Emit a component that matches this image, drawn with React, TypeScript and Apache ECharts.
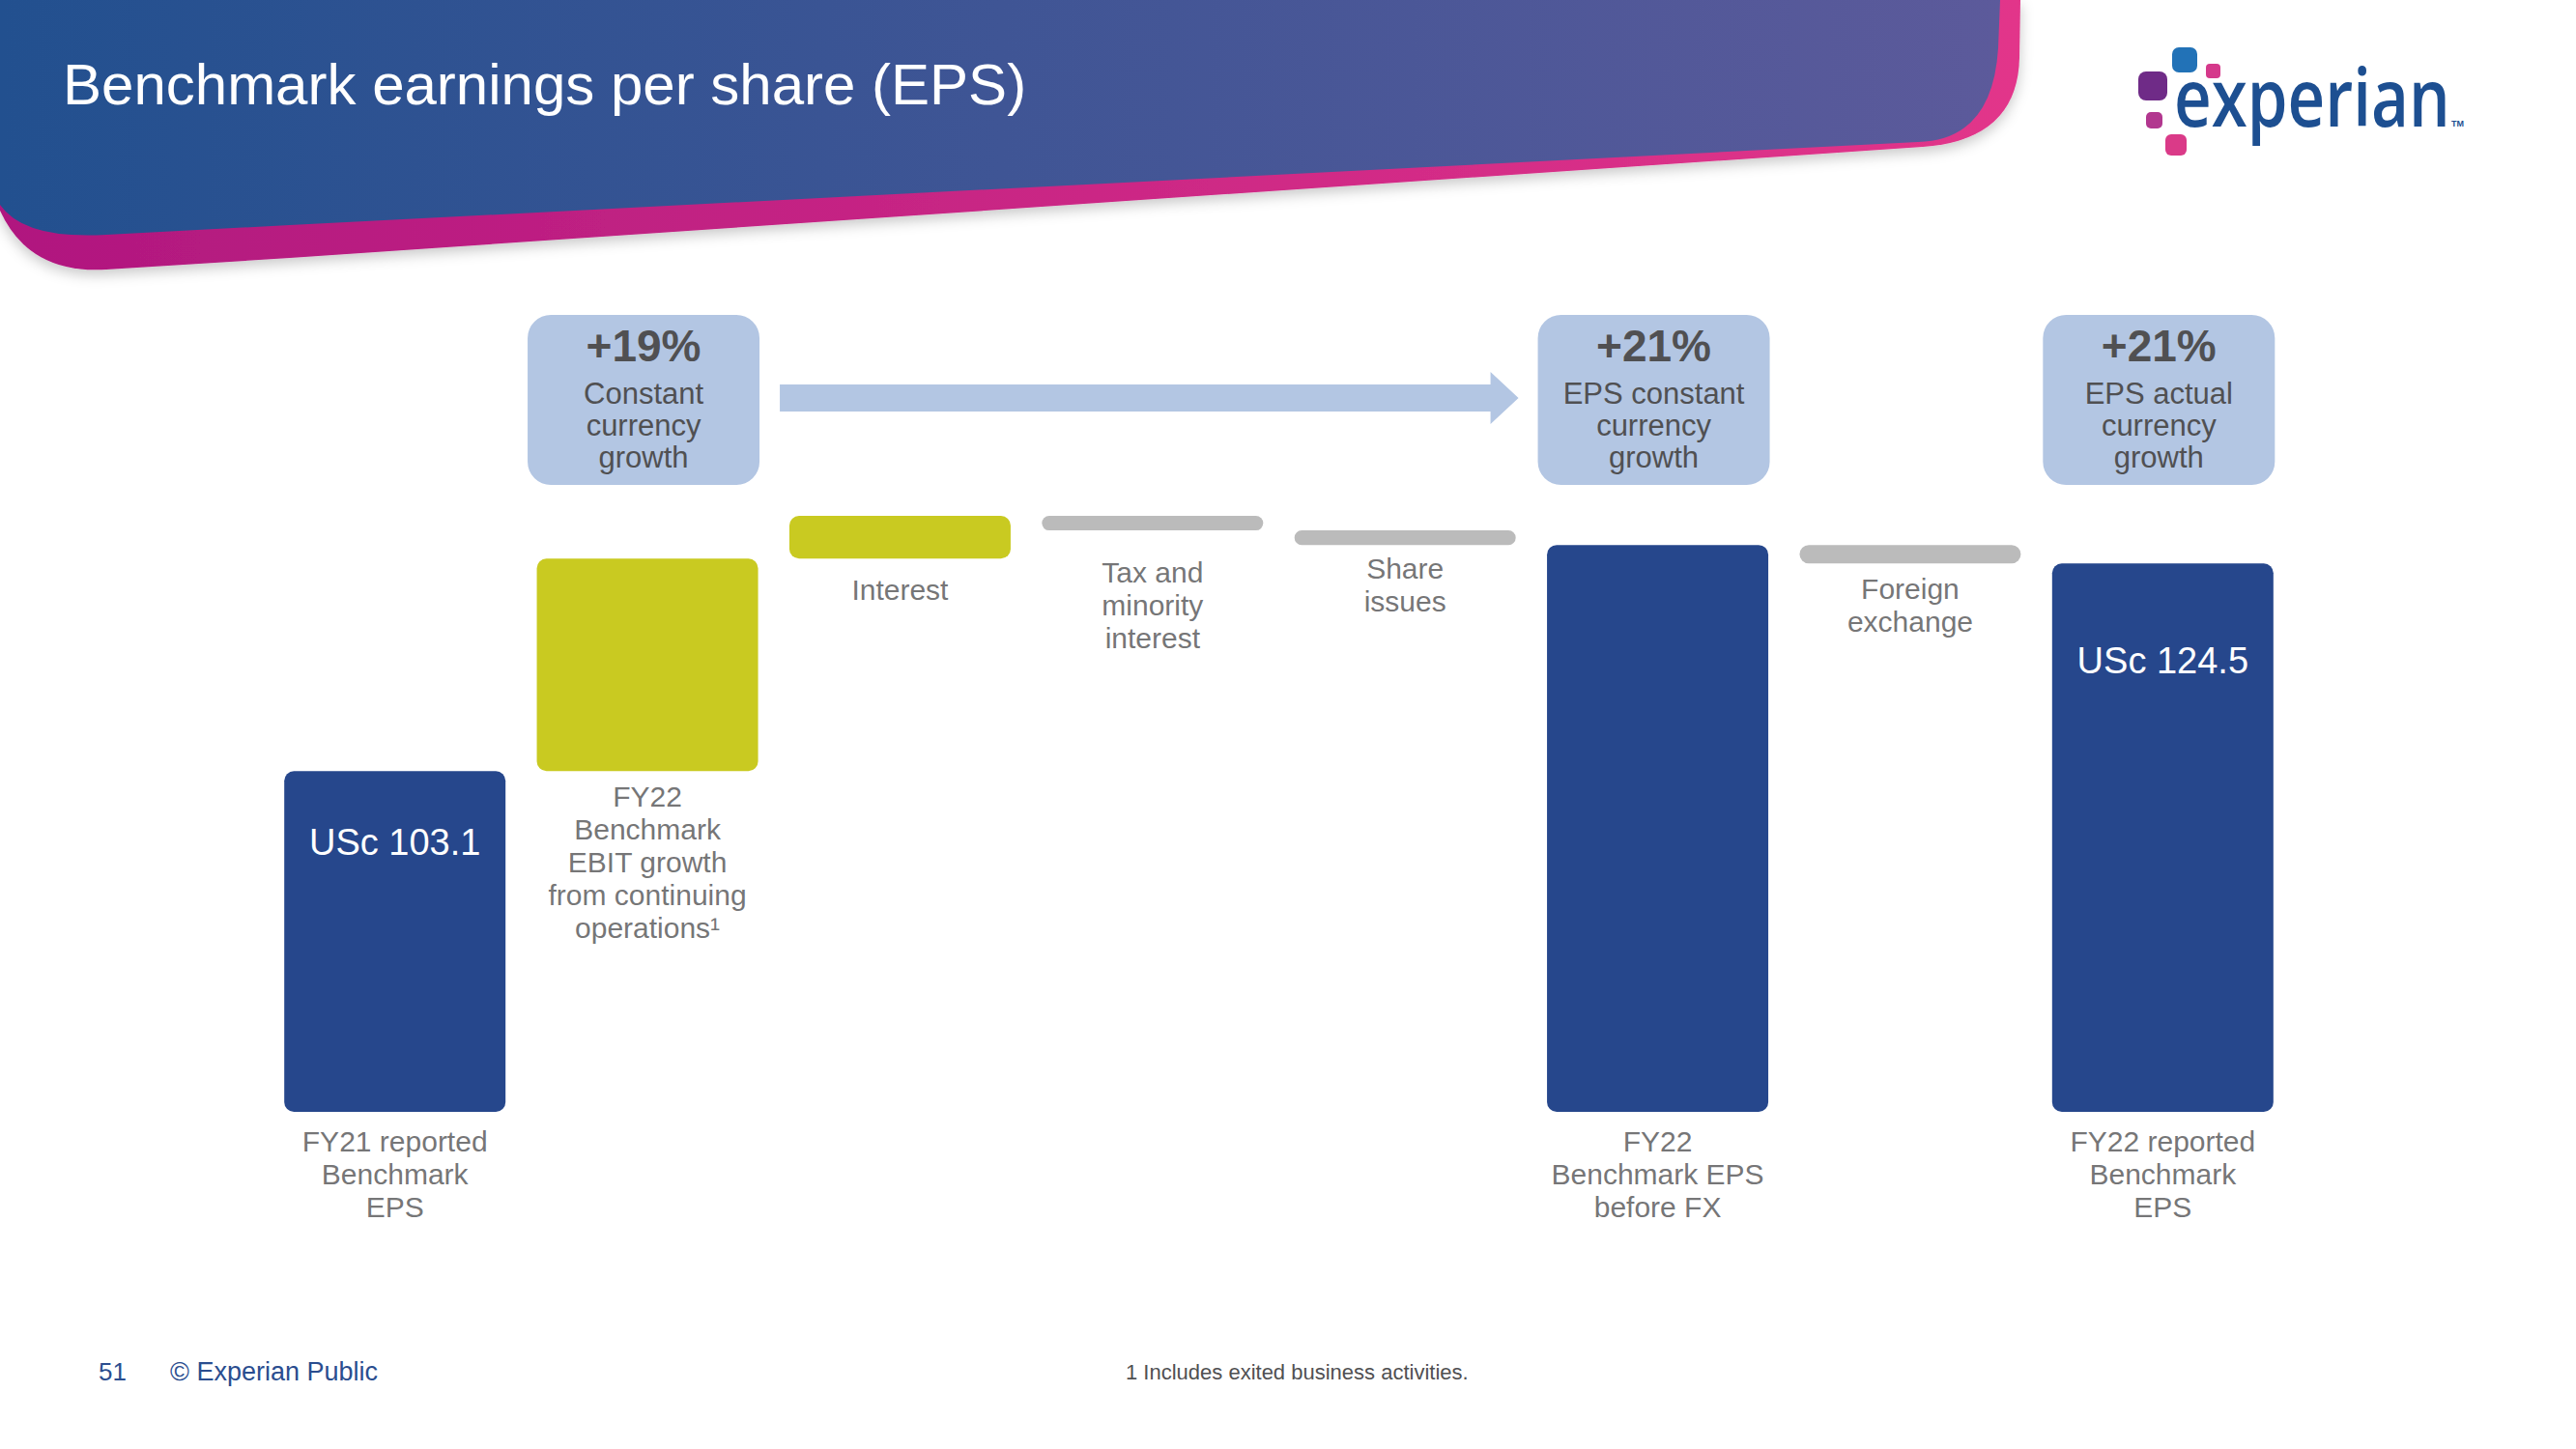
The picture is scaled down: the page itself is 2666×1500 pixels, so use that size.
import React, { useEffect, useRef } from "react";
import * as echarts from "echarts";

// ---------- data ----------
const categories = [
  "FY21 reported\nBenchmark\nEPS",
  "FY22\nBenchmark\nEBIT growth\nfrom continuing\noperations¹",
  "Interest",
  "Tax and\nminority\ninterest",
  "Share\nissues",
  "FY22\nBenchmark EPS\nbefore FX",
  "Foreign\nexchange",
  "FY22 reported\nBenchmark\nEPS",
];
const stepKinds = ["total", "increase", "increase", "decrease", "decrease", "total", "decrease", "total"];
const stepValues = [103.1, 21.9, 4.4, -1.5, -1.5, 126.4, -1.9, 124.5];
const valueLabelShown = [true, false, false, false, false, false, false, true];
const valuePrefix = "USc ";

const growthAt = [1, 5, 7];
const growthPct = ["+19%", "+21%", "+21%"];
const growthText = [
  "Constant\ncurrency\ngrowth",
  "EPS constant\ncurrency\ngrowth",
  "EPS actual\ncurrency\ngrowth",
];

const titleText = "Benchmark earnings per share (EPS)";
const pageNumber = "51";
const footerText = "© Experian Public";
const footnoteText = "1 Includes exited business activities.";

// ---------- styles ----------
const Y_MIN = 68;
const Y_MAX = 130;
const FONT = "'Liberation Sans', Arial, sans-serif";
const kindColor: Record<string, string> = {
  total: "#26478C",
  increase: "#C9CA21",
  decrease: "#BBBBBB",
};
const valueLabelOffset = [50, 0, 0, 0, 0, 0, 0, 77];
const nameGap = [13, 9, 15, 26, 7, 13, 9, 13];
const TEXT_GRAY = "#505052";
const BOX_BLUE = "#B3C6E3";

// header shapes
const magentaPath =
  "M0,0 L2091,0 L2090,60 Q2088,145 1990,152 L300,267 L110,279 Q30,284 0,218 Z";
const bluePath =
  "M0,0 L2070,0 L2068,50 Q2062,145 1985,147 L300,233 L110,243 Q25,248 0,212 Z";
echarts.graphic.registerShape("hdrMagenta", echarts.graphic.extendPath(magentaPath, {}) as any);
echarts.graphic.registerShape("hdrBlue", echarts.graphic.extendPath(bluePath, {}) as any);

export default function App() {
  const ref = useRef<HTMLDivElement>(null);

  useEffect(() => {
    const chart = echarts.init(ref.current!, null, { renderer: "svg" });

    // waterfall layout
    const bottoms: number[] = [];
    const tops: number[] = [];
    let running = 0;
    stepValues.forEach((v, i) => {
      const k = stepKinds[i];
      if (k === "total") {
        bottoms.push(Y_MIN);
        tops.push(v);
        running = v;
      } else {
        const next = running + v;
        bottoms.push(Math.min(running, next));
        tops.push(Math.max(running, next));
        running = next;
      }
    });

    const visibleData = stepValues.map((v, i) => ({
      value: +(tops[i] - bottoms[i]).toFixed(3),
      itemStyle: { color: kindColor[stepKinds[i]], borderRadius: 10 },
      label: {
        show: valueLabelShown[i],
        position: "insideTop",
        offset: [0, valueLabelOffset[i]],
        formatter: valuePrefix + v,
        color: "#FFFFFF",
        fontSize: 38,
        fontFamily: FONT,
      },
    }));

    const nameData = categories.map((c, i) => ({
      value: [i, bottoms[i]],
      label: { distance: nameGap[i] },
    }));

    chart.setOption({
      animation: false,
      backgroundColor: "#FFFFFF",
      grid: { left: 278, top: 528, width: 2091, height: 623 },
      xAxis: {
        type: "category",
        data: categories,
        show: false,
      },
      yAxis: { type: "value", min: Y_MIN, max: Y_MAX, show: false },
      series: [
        {
          name: "base",
          type: "bar",
          stack: "wf",
          barWidth: 229,
          silent: true,
          itemStyle: { color: "rgba(0,0,0,0)" },
          data: bottoms,
        },
        {
          name: "step",
          type: "bar",
          stack: "wf",
          barWidth: 229,
          data: visibleData,
        },
        {
          name: "names",
          type: "scatter",
          symbolSize: 0,
          silent: true,
          label: {
            show: true,
            position: "bottom",
            formatter: (p: any) => categories[p.dataIndex],
            color: TEXT_GRAY,
            fontSize: 30,
            lineHeight: 34,
            fontFamily: FONT,
            align: "center",
          },
          data: nameData,
        },
      ],
    });

    const px = (i: number) => chart.convertToPixel({ xAxisIndex: 0 }, i) as number;

    const elements: any[] = [];

    // header
    elements.push({
      type: "hdrMagenta",
      x: 0,
      y: 0,
      z: 10,
      style: {
        fill: {
          type: "linear", x: 0, y: 0, x2: 1, y2: 0,
          colorStops: [
            { offset: 0, color: "#B0177F" },
            { offset: 1, color: "#E2358A" },
          ],
        },
        shadowBlur: 14,
        shadowOffsetY: 5,
        shadowColor: "rgba(0,0,0,0.22)",
      },
    });
    elements.push({
      type: "hdrBlue",
      x: 0,
      y: 0,
      z: 11,
      style: {
        fill: {
          type: "linear", x: 0, y: 0, x2: 1, y2: 0,
          colorStops: [
            { offset: 0, color: "#22508F" },
            { offset: 1, color: "#5C5A9B" },
          ],
        },
      },
    });
    elements.push({
      type: "text",
      x: 65,
      y: 87,
      z: 12,
      style: {
        text: titleText,
        fill: "#FFFFFF",
        fontSize: 60,
        fontFamily: FONT,
        align: "left",
        verticalAlign: "middle",
      },
    });

    // logo
    const squares = [
      { x: 2248, y: 49, s: 26, c: "#2272B7" },
      { x: 2283, y: 66, s: 15, c: "#D5398B" },
      { x: 2213, y: 74, s: 30, c: "#6F2B87" },
      { x: 2221, y: 116, s: 17, c: "#B2378F" },
      { x: 2241, y: 139, s: 22, c: "#DA3A88" },
    ];
    squares.forEach((q) => {
      elements.push({
        type: "rect",
        shape: { x: q.x, y: q.y, width: q.s, height: q.s, r: Math.round(q.s * 0.28) },
        style: { fill: q.c },
      });
    });
    elements.push({
      type: "text",
      x: 2250,
      y: 103,
      scaleX: 0.84,
      scaleY: 1.04,
      originY: 103,
      style: {
        text: "experian",
        fill: "#1D4F91",
        fontSize: 80,
        fontWeight: 600,
        fontFamily: "'Open Sans', 'Noto Sans', sans-serif",
        align: "left",
        verticalAlign: "middle",
      },
    });
    elements.push({
      type: "text",
      x: 2537,
      y: 128,
      style: {
        text: "TM",
        fill: "#1D4F91",
        fontSize: 9,
        fontWeight: "bold",
        fontFamily: FONT,
        align: "left",
        verticalAlign: "middle",
      },
    });

    // growth boxes
    const boxW = 240;
    const boxH = 176;
    const boxTop = 326;
    const boxLeft: number[] = [];
    growthAt.forEach((idx, k) => {
      const cx = px(idx) - 4;
      boxLeft.push(cx - boxW / 2);
      elements.push({
        type: "rect",
        shape: { x: cx - boxW / 2, y: boxTop, width: boxW, height: boxH, r: 24 },
        style: { fill: BOX_BLUE },
      });
      elements.push({
        type: "text",
        x: cx,
        y: 358,
        style: {
          text: growthPct[k],
          fill: TEXT_GRAY,
          fontSize: 46,
          fontWeight: "bold",
          fontFamily: FONT,
          align: "center",
          verticalAlign: "middle",
        },
      });
      elements.push({
        type: "text",
        x: cx,
        y: 440,
        style: {
          text: growthText[k],
          fill: TEXT_GRAY,
          fontSize: 31,
          lineHeight: 33,
          fontFamily: FONT,
          align: "center",
          verticalAlign: "middle",
        },
      });
    });

    // arrow between first two boxes
    const ax0 = boxLeft[0] + boxW + 21;
    const tip = boxLeft[1] - 20;
    const hb = tip - 29;
    const ayc = 412;
    elements.push({
      type: "polygon",
      shape: {
        points: [
          [ax0, ayc - 14],
          [hb, ayc - 14],
          [hb, ayc - 27],
          [tip, ayc],
          [hb, ayc + 27],
          [hb, ayc + 14],
          [ax0, ayc + 14],
        ],
      },
      style: { fill: BOX_BLUE },
    });

    // footer
    elements.push({
      type: "text",
      x: 102,
      y: 1420,
      style: {
        text: pageNumber,
        fill: "#2A4D8F",
        fontSize: 26,
        fontFamily: FONT,
        align: "left",
        verticalAlign: "middle",
      },
    });
    elements.push({
      type: "text",
      x: 176,
      y: 1420,
      style: {
        text: footerText,
        fill: "#2A4D8F",
        fontSize: 27,
        fontFamily: FONT,
        align: "left",
        verticalAlign: "middle",
      },
    });
    elements.push({
      type: "text",
      x: 1165,
      y: 1420,
      style: {
        text: footnoteText,
        fill: TEXT_GRAY,
        fontSize: 22,
        fontFamily: FONT,
        align: "left",
        verticalAlign: "middle",
      },
    });

    chart.setOption({ graphic: { elements } });

    return () => chart.dispose();
  }, []);

  return (
    <div
      ref={ref}
      style={{ position: "absolute", left: 0, top: 0, width: 2666, height: 1500, background: "#FFFFFF" }}
    />
  );
}
